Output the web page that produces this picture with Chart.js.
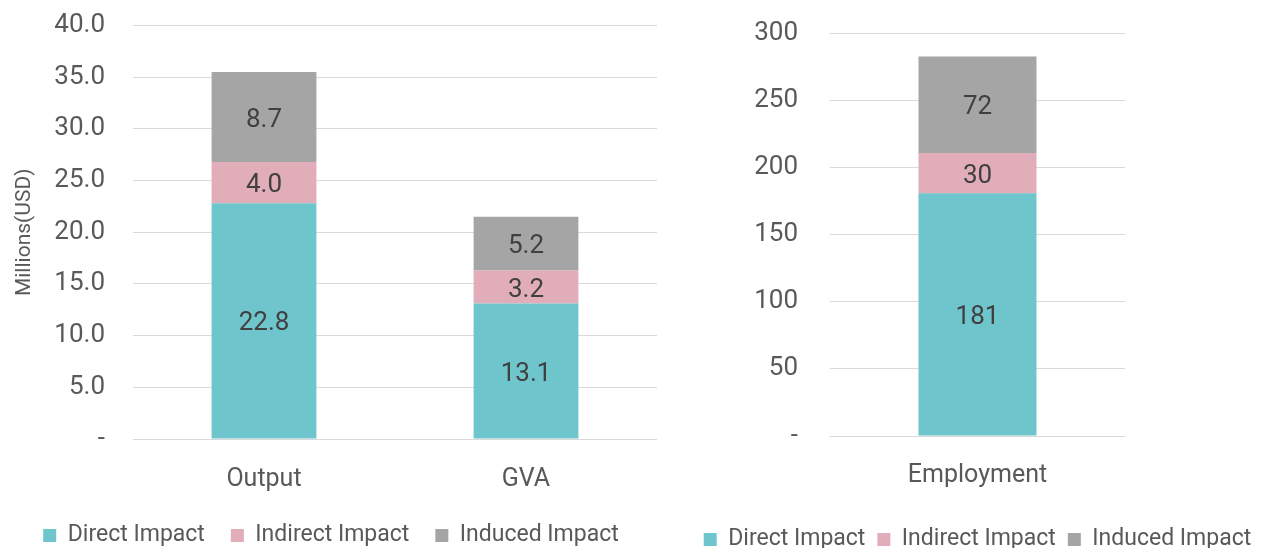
<!DOCTYPE html>
<html>
<head>
<meta charset="utf-8">
<script src="https://cdn.jsdelivr.net/npm/chart.js@4/dist/chart.umd.min.js"></script>
<style>
  html, body { margin: 0; padding: 0; background: #fff; overflow: hidden; }
  #wrap { position: relative; width: 1265px; height: 548px; overflow: hidden; }
  .box { position: absolute; }
  #leftBox { left: 0; top: -18px; width: 670px; height: 566px; }
  #rightBox { left: 690px; top: -14px; width: 575px; height: 562px; }
</style>
</head>
<body>
<div id="wrap">
  <div class="box" id="leftBox"><canvas id="valueChart"></canvas></div>
  <div class="box" id="rightBox"><canvas id="jobsChart"></canvas></div>
</div>
<script>
// Data
const seriesNames = ['Direct Impact', 'Indirect Impact', 'Induced Impact'];
const seriesColors = ['#6EC6CC', '#E1ADB8', '#A5A5A5'];

const valueCategories = ['Output', 'GVA'];
const valueDirect = [22.8, 13.1];
const valueIndirect = [4.0, 3.2];
const valueInduced = [8.7, 5.2];

const jobsCategories = ['Employment'];
const jobsDirect = [181];
const jobsIndirect = [30];
const jobsInduced = [72];

const FONT = 'Roboto, "DejaVu Sans", sans-serif';
const TICK_COLOR = '#595959';
const GRID_COLOR = '#D9D9D9';

// draws the value in the middle of every bar segment
const barValueLabels = {
    id: 'barValueLabels',
    afterDatasetsDraw(chart, args, opts) {
        const ctx = chart.ctx;
        ctx.save();
        ctx.font = '26px ' + FONT;
        ctx.fillStyle = '#404040';
        ctx.textAlign = 'center';
        ctx.textBaseline = 'middle';
        chart.data.datasets.forEach((ds, i) => {
            const meta = chart.getDatasetMeta(i);
            meta.data.forEach((bar, j) => {
                const p = bar.getProps(['x', 'y', 'base'], true);
                ctx.fillText(opts.format(ds.data[j]), p.x, (p.y + p.base) / 2 + 3);
            });
        });
        ctx.restore();
    }
};

function makeDatasets(direct, indirect, induced) {
    return [direct, indirect, induced].map((data, i) => ({
        label: seriesNames[i],
        data: data,
        backgroundColor: seriesColors[i],
        borderWidth: 0,
        barPercentage: 0.8,
        categoryPercentage: 0.5
    }));
}

function createStackChart(canvasId, cfg) {
    const ctx = document.getElementById(canvasId);
    const scales = {
        x: {
            stacked: true,
            grid: { display: false },
            border: { display: false },
            ticks: {
                color: TICK_COLOR,
                font: { family: FONT, size: 25 },
                padding: cfg.catPad
            },
            afterFit: s => { s.height = cfg.xHeight; }
        },
        y: {
            stacked: true,
            min: 0,
            max: cfg.max,
            border: { display: false },
            grid: { color: GRID_COLOR, lineWidth: 1, drawTicks: false },
            ticks: {
                stepSize: cfg.step,
                color: TICK_COLOR,
                font: { family: FONT, size: 26 },
                padding: cfg.tickPad,
                callback: cfg.tickFormat
            },
            title: cfg.title ? {
                display: true,
                text: cfg.title,
                color: TICK_COLOR,
                font: { family: FONT, size: 21 },
                padding: { top: 7, bottom: 0 }
            } : { display: false },
            afterFit: s => { s.width = cfg.yWidth; }
        }
    };
    if (cfg.rightSpace) {
        // empty right-hand scale so the plot sits in the middle of the legend
        scales.spacer = {
            position: 'right',
            display: true,
            grid: { display: false },
            border: { display: false },
            ticks: { display: false },
            afterFit: s => { s.width = cfg.rightSpace; }
        };
    }
    return new Chart(ctx, {
        type: 'bar',
        data: {
            labels: cfg.labels,
            datasets: makeDatasets(cfg.direct, cfg.indirect, cfg.induced)
        },
        options: {
            responsive: true,
            maintainAspectRatio: false,
            animation: false,
            layout: { padding: cfg.padding },
            plugins: {
                legend: {
                    position: 'bottom',
                    labels: {
                        color: TICK_COLOR,
                        font: { family: FONT, size: 23 },
                        boxWidth: 13,
                        boxHeight: 13,
                        padding: cfg.legendPad
                    }
                },
                tooltip: { enabled: false },
                barValueLabels: { format: cfg.labelFormat }
            },
            scales: scales
        },
        plugins: [barValueLabels]
    });
}

createStackChart('valueChart', {
    labels: valueCategories,
    direct: valueDirect,
    indirect: valueIndirect,
    induced: valueInduced,
    max: 40,
    step: 5,
    tickPad: 28,
    yWidth: 128,
    catPad: 18,
    xHeight: 59,
    legendPad: 26,
    title: 'Millions(USD)',
    padding: { left: 5, right: 13, top: 0, bottom: -9 },
    tickFormat: v => v === 0 ? '-' : v.toFixed(1),
    labelFormat: v => v.toFixed(1)
});

createStackChart('jobsChart', {
    labels: jobsCategories,
    direct: jobsDirect,
    indirect: jobsIndirect,
    induced: jobsInduced,
    max: 300,
    step: 50,
    tickPad: 32,
    yWidth: 140,
    rightSpace: 140,
    catPad: 17,
    xHeight: 80,
    legendPad: 12,
    padding: { left: 0, right: 0, top: 0, bottom: -13 },
    tickFormat: v => v === 0 ? '-' : String(v),
    labelFormat: v => String(v)
});
</script>
</body>
</html>
